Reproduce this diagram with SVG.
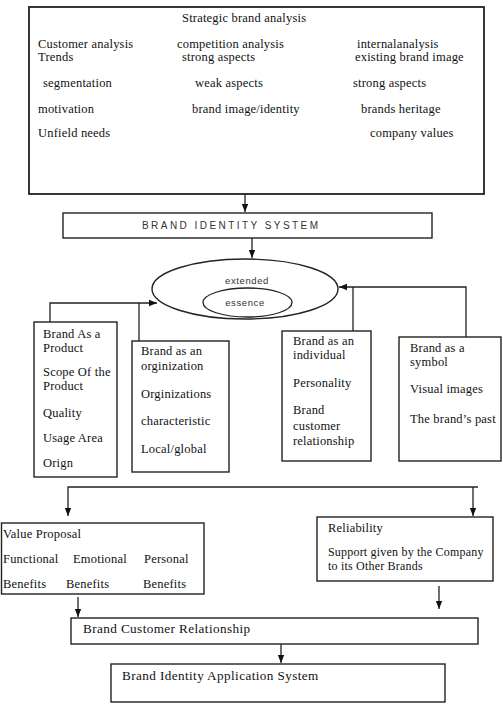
<svg xmlns="http://www.w3.org/2000/svg" width="503" height="711" viewBox="0 0 503 711">
<style>
.box{fill:#fff;stroke:#222;stroke-width:1.4}
.t{font-family:"Liberation Serif","Times New Roman",serif;font-size:12.5px;fill:#111;letter-spacing:0.2px}
.tl{font-family:"Liberation Serif","Times New Roman",serif;font-size:13.2px;fill:#111;letter-spacing:0.4px}
.s{font-family:"Liberation Sans",Arial,sans-serif;font-size:9.5px;fill:#333;letter-spacing:0.6px}
.c{fill:none;stroke:#222;stroke-width:1.3}
</style>
<defs>
<marker id="ah" markerUnits="userSpaceOnUse" markerWidth="8" markerHeight="8" viewBox="0 0 8 8" refX="8" refY="4" orient="auto">
<path d="M0,0.8 L8,4 L0,7.2 Z" fill="#111"/>
</marker>
</defs>
<rect width="503" height="711" fill="#fff"/>

<g id="connectors">
<path class="c" d="M245,194 V212" marker-end="url(#ah)"/>
<path class="c" d="M252,238 V258" marker-end="url(#ah)"/>
<path class="c" d="M50,322 V303 H157" marker-end="url(#ah)"/>
<path class="c" d="M139,341 V303"/>
<path class="c" d="M466,337 V287 H339" marker-end="url(#ah)"/>
<path class="c" d="M353,331 V287"/>
<path class="c" d="M478,487 H68 V516" marker-end="url(#ah)"/>
<path class="c" d="M473,487 V516" marker-end="url(#ah)"/>
<path class="c" d="M78,597 V617" marker-end="url(#ah)"/>
<path class="c" d="M439,586 V609" marker-end="url(#ah)"/>
<path class="c" d="M281,644 V663" marker-end="url(#ah)"/>
</g>

<g id="strategic-brand-analysis">
<rect class="box" x="29" y="7" width="455" height="187" style="stroke-width:1.8"/>
<text class="t" x="182" y="22">Strategic brand analysis</text>
<text class="t" x="38" y="48">Customer analysis</text>
<text class="t" x="177" y="48">competition analysis</text>
<text class="t" x="357" y="48">internalanalysis</text>
<text class="t" x="38" y="61">Trends</text>
<text class="t" x="182" y="61">strong aspects</text>
<text class="t" x="355" y="61">existing brand image</text>
<text class="t" x="43" y="87">segmentation</text>
<text class="t" x="195" y="87">weak aspects</text>
<text class="t" x="353" y="87">strong aspects</text>
<text class="t" x="38" y="113">motivation</text>
<text class="t" x="192" y="113">brand image/identity</text>
<text class="t" x="361" y="113">brands heritage</text>
<text class="t" x="38" y="137">Unfield needs</text>
<text class="t" x="370" y="137">company values</text>
</g>

<g id="brand-identity-system">
<rect class="box" x="63" y="213" width="369" height="25"/>
<text class="s" x="142" y="229" textLength="176" style="font-size:10px;letter-spacing:0">BRAND IDENTITY SYSTEM</text>
</g>

<g id="extended-essence">
<ellipse cx="245" cy="289" rx="93" ry="30" fill="#fff" stroke="#222" stroke-width="1.4"/>
<ellipse cx="247.5" cy="302.5" rx="44.5" ry="14.5" fill="#fff" stroke="#222" stroke-width="1.3"/>
<text class="s" x="247" y="284" text-anchor="middle">extended</text>
<text class="s" x="245" y="306" text-anchor="middle">essence</text>
</g>

<g id="brand-as-product">
<rect class="box" x="34" y="322" width="83" height="155"/>
<text class="t" x="43" y="338">Brand As a</text>
<text class="t" x="43" y="352">Product</text>
<text class="t" x="43" y="376">Scope Of the</text>
<text class="t" x="43" y="390">Product</text>
<text class="t" x="43" y="417">Quality</text>
<text class="t" x="43" y="442">Usage Area</text>
<text class="t" x="43" y="467">Orign</text>
</g>

<g id="brand-as-organization">
<rect class="box" x="132" y="341" width="97" height="131"/>
<text class="t" x="141" y="355">Brand as an</text>
<text class="t" x="141" y="370">orginization</text>
<text class="t" x="141" y="398">Orginizations</text>
<text class="t" x="141" y="425">characteristic</text>
<text class="t" x="141" y="453">Local/global</text>
</g>

<g id="brand-as-individual">
<rect class="box" x="282" y="331" width="89" height="130"/>
<text class="t" x="293" y="345">Brand as an</text>
<text class="t" x="293" y="359">individual</text>
<text class="t" x="293" y="387">Personality</text>
<text class="t" x="293" y="414">Brand</text>
<text class="t" x="293" y="430">customer</text>
<text class="t" x="293" y="445">relationship</text>
</g>

<g id="brand-as-symbol">
<rect class="box" x="399" y="337" width="102" height="124"/>
<text class="t" x="410" y="352">Brand as a</text>
<text class="t" x="410" y="366">symbol</text>
<text class="t" x="410" y="393">Visual images</text>
<text class="t" x="410" y="423">The brand’s past</text>
</g>

<g id="value-proposal">
<rect class="box" x="1.5" y="523" width="202.5" height="71"/>
<text class="t" x="3" y="538">Value Proposal</text>
<text class="t" x="3" y="563">Functional</text>
<text class="t" x="73" y="563">Emotional</text>
<text class="t" x="144" y="563">Personal</text>
<text class="t" x="3" y="588">Benefits</text>
<text class="t" x="66" y="588">Benefits</text>
<text class="t" x="143" y="588">Benefits</text>
</g>

<g id="reliability">
<rect class="box" x="317" y="517" width="176" height="64"/>
<text class="t" x="328" y="532">Reliability</text>
<text class="t" x="328" y="556" style="font-size:12px">Support given by the Company</text>
<text class="t" x="328" y="570" style="font-size:12px">to its Other Brands</text>
</g>

<g id="brand-customer-relationship">
<rect class="box" x="71" y="618" width="407" height="26"/>
<text class="tl" x="83" y="633">Brand Customer Relationship</text>
</g>

<g id="brand-identity-application-system">
<rect class="box" x="111" y="664" width="334" height="38"/>
<text class="tl" x="122" y="680">Brand Identity Application System</text>
</g>
</svg>
